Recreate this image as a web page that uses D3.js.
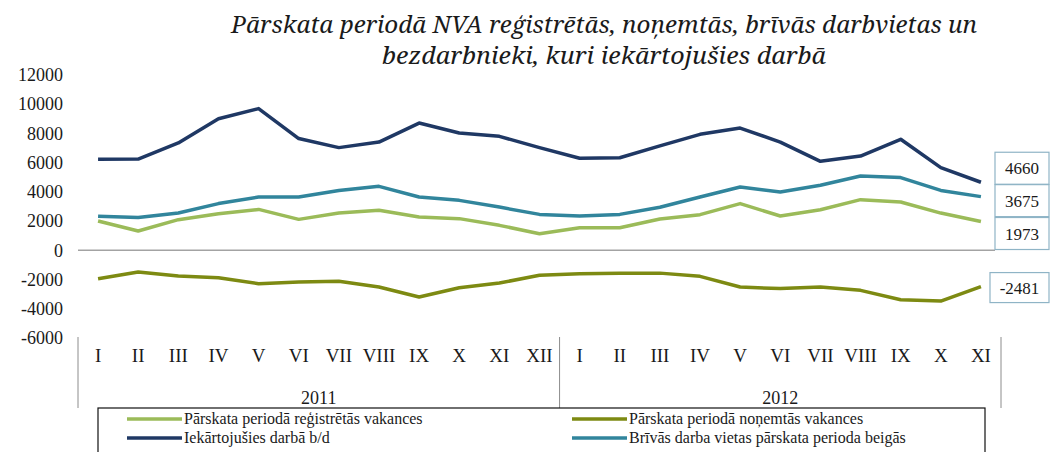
<!DOCTYPE html>
<html>
<head>
<meta charset="utf-8">
<script src="https://cdn.jsdelivr.net/npm/d3@7"></script>
<style>
  body { margin: 0; background: #fff; }
  text { font-family: "Liberation Serif", "Times New Roman", serif; fill: #1a1a1a; }
</style>
</head>
<body>
<svg id="chart" width="1051" height="452"></svg>
<script>
// month labels, two years (2012 ends in November)
const months = ["I","II","III","IV","V","VI","VII","VIII","IX","X","XI","XII",
                "I","II","III","IV","V","VI","VII","VIII","IX","X","XI"];
const years = ["2011", "2012"];
const yearCounts = [12, 11];

// series values
const registered = [2010, 1320, 2100, 2510, 2800, 2120, 2550, 2740, 2280, 2170, 1710, 1140,
                    1550, 1550, 2150, 2440, 3200, 2350, 2780, 3470, 3310, 2550, 1973];
const removed = [-1940, -1480, -1760, -1870, -2280, -2170, -2120, -2510, -3190, -2560, -2240, -1710,
                 -1600, -1570, -1560, -1780, -2510, -2620, -2510, -2740, -3380, -3470, -2481];
const employed = [6230, 6250, 7350, 9010, 9700, 7650, 7030, 7410, 8710, 8030, 7800, 7030,
                  6300, 6340, 7150, 7940, 8370, 7410, 6090, 6450, 7600, 5660, 4660];
const vacancies = [2330, 2240, 2550, 3200, 3650, 3650, 4100, 4380, 3650, 3420, 2960, 2460,
                   2350, 2460, 2950, 3650, 4330, 3990, 4450, 5090, 4980, 4100, 3675];

const yTicks = [-6000, -4000, -2000, 0, 2000, 4000, 6000, 8000, 10000, 12000];
const titleLines = ["Pārskata periodā NVA reģistrētās, noņemtās, brīvās darbvietas un",
                    "bezdarbnieki, kuri iekārtojušies darbā"];

const seriesNames = ["Pārskata periodā reģistrētās vakances", "Pārskata periodā noņemtās vakances",
                     "Iekārtojušies darbā b/d", "Brīvās darba vietas pārskata perioda beigās"];
const seriesData = [registered, removed, employed, vacancies];
const colors = ["#9bbb59", "#7d8a12", "#1f3864", "#31859c"];

const serif = "font-family: 'Liberation Serif', 'Times New Roman', serif";

const svg = d3.select("#chart");

const x = d3.scaleBand().domain(d3.range(months.length)).range([78, 1001]);
const y = d3.scaleLinear().domain([-6000, 12000]).range([338, 75]);

// title (Noto Serif italic is the closest to the Cambria look)
svg.selectAll(".title").data(titleLines).enter().append("text")
  .attr("class", "title")
  .attr("x", 604)
  .attr("y", (d, i) => 33 + i * 31)
  .attr("text-anchor", "middle")
  .attr("style", "font-family: 'Noto Serif', serif; font-style: italic; font-size: 23px")
  .attr("textLength", (d, i) => i === 0 ? 746 : 444)
  .attr("lengthAdjust", "spacingAndGlyphs")
  .text(d => d);

// y axis labels (no axis line)
const yAxis = d3.axisLeft(y).tickValues(yTicks).tickSize(0).tickPadding(0)
  .tickFormat(d => String(d));
const gy = svg.append("g").attr("transform", "translate(63,0)").call(yAxis);
gy.select(".domain").remove();
gy.selectAll("text").attr("style", serif + "; font-size: 18px").attr("fill", "#1a1a1a");

// zero line
svg.append("line")
  .attr("x1", x.range()[0]).attr("x2", x.range()[1] - 6)
  .attr("y1", y(0)).attr("y2", y(0))
  .attr("stroke", "#a3a3a3").attr("stroke-width", 1.5);

// month labels
svg.selectAll(".month").data(months).enter().append("text")
  .attr("class", "month")
  .attr("x", (d, i) => x(i) + x.bandwidth() / 2)
  .attr("y", 362)
  .attr("text-anchor", "middle")
  .attr("style", serif + "; font-size: 19px")
  .text(d => d);

// year groups with separators
let start = 0;
const seps = [x(0)];
years.forEach((yr, k) => {
  const a = x(start), b = x(start + yearCounts[k] - 1) + x.bandwidth();
  svg.append("text")
    .attr("x", (a + b) / 2).attr("y", 404)
    .attr("text-anchor", "middle").attr("style", serif + "; font-size: 18px")
    .text(yr);
  seps.push(b);
  start += yearCounts[k];
});
svg.selectAll(".sep").data(seps).enter().append("line")
  .attr("x1", d => d).attr("x2", d => d)
  .attr("y1", 337).attr("y2", 408)
  .attr("stroke", "#8c8c8c").attr("stroke-width", 1);

// lines
const line = d3.line()
  .x((d, i) => x(i) + x.bandwidth() / 2)
  .y(d => y(d));

svg.selectAll(".series").data(seriesData).enter().append("path")
  .attr("class", "series")
  .attr("d", d => line(d))
  .attr("fill", "none")
  .attr("stroke", (d, i) => colors[i])
  .attr("stroke-width", 3.5)
  .attr("stroke-linejoin", "round");

// end-value labels in boxes (nudged so they stack like the original)
const labelOrder = [2, 3, 0, 1];
const labelNudge = [-14, 4, 12, 1];
const last = months.length - 1;
labelOrder.forEach((s, k) => {
  const v = seriesData[s][last];
  const cy = y(v) + labelNudge[k];
  const bx = s === 1 ? 990 : 995;
  const h = s === 1 ? 30 : 32;
  svg.append("rect")
    .attr("x", bx).attr("y", cy - h / 2)
    .attr("width", 1049 - bx).attr("height", h)
    .attr("fill", "#fff").attr("stroke", "#8fb4c6").attr("stroke-width", 1.2);
  svg.append("text")
    .attr("x", (bx + 1049) / 2).attr("y", cy + 6)
    .attr("text-anchor", "middle").attr("style", serif + "; font-size: 17px")
    .text(v);
});

// legend
svg.append("rect")
  .attr("x", 98).attr("y", 408).attr("width", 887).attr("height", 60)
  .attr("fill", "#fff").attr("stroke", "#111").attr("stroke-width", 1.2);
const legendPos = [[127, 419], [572, 419], [127, 438], [572, 438]];
seriesNames.forEach((name, i) => {
  const [lx, ly] = legendPos[i];
  svg.append("line")
    .attr("x1", lx).attr("x2", lx + 55).attr("y1", ly).attr("y2", ly)
    .attr("stroke", colors[i]).attr("stroke-width", 3.5);
  svg.append("text")
    .attr("x", lx + 57).attr("y", ly + 5)
    .attr("style", serif + "; font-size: 16px")
    .text(name);
});
</script>
</body>
</html>
